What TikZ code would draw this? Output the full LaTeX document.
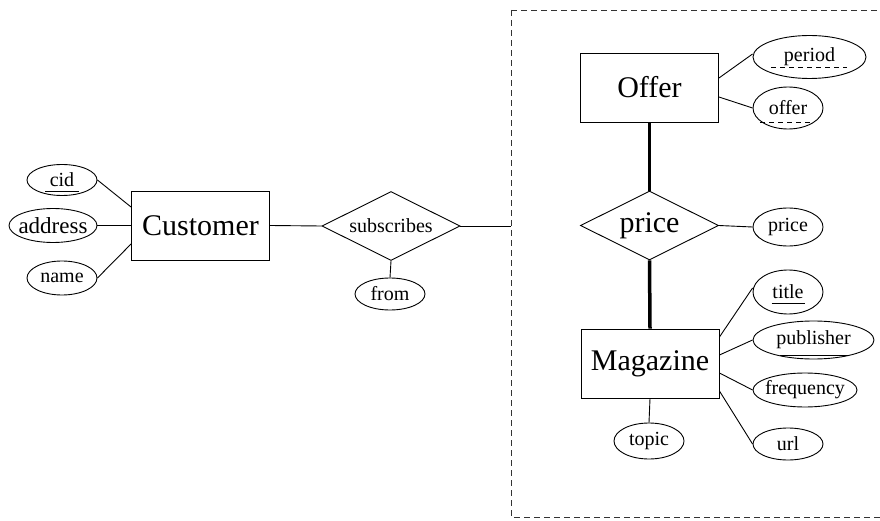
\documentclass[tikz,border=0pt]{standalone}
\usepackage{fontspec}
\setmainfont{Liberation Serif}
\usetikzlibrary{shapes.geometric}
\newcommand{\attxt}[1]{\makebox[0pt]{#1}}
\begin{document}
\begin{tikzpicture}[x=1pt,y=-1pt,
  every path/.style={line width=0.9pt},
  ent/.style={draw,rectangle,minimum width=138pt,minimum height=69pt,inner sep=0pt,
    font=\fontsize{30}{36}\selectfont},
  rel/.style={draw,diamond,aspect=2,minimum width=138pt,minimum height=69pt,inner sep=0pt,
    font=\fontsize{#1}{24}\selectfont},
  attr/.style={draw,ellipse,inner sep=0pt,font=\fontsize{20}{24}\selectfont},
  strong/.style={line width=3.5pt},
  keyline/.style={line width=0.9pt},
  partkey/.style={line width=0.9pt,dash pattern=on 5pt off 4pt}]
\useasboundingbox (0,0) rectangle (880,521);

% aggregation boundary
\draw[dash pattern=on 6pt off 4pt,black!80] (511,10) -- (895,10)
  (511,10) -- (511,517) -- (895,517);
\coordinate (aggw) at (511,226);

% entities and relationships
\node[ent] (cust) at (200.5,225.5) {Customer};
\node[rel=20] (subs) at (391,226) {subscribes};
\node[ent] (offer) at (649.5,87.5) {Offer};
\node[rel=30] (price) at (649.5,225.5) {\raisebox{-2pt}{price}};
\node[ent] (mag) at (650,363.5) {Magazine};

% attributes
\node[attr,minimum width=70pt,minimum height=31pt] (cid) at (62,180) {\attxt{cid}};
\node[attr,minimum width=88pt,minimum height=34pt,font=\fontsize{23}{26}\selectfont] (addr) at (53,225.5) {\attxt{address}};
\node[attr,minimum width=70pt,minimum height=34pt] (name) at (62,278) {\attxt{name}};
\node[attr,minimum width=70pt,minimum height=32pt] (from) at (390,294) {\attxt{from}};
\node[attr,minimum width=113pt,minimum height=43pt] (period) at (809.5,57) {\attxt{period}};
\node[attr,minimum width=70pt,minimum height=42pt] (offat) at (788,108) {\attxt{offer}};
\node[attr,minimum width=70pt,minimum height=38pt] (pr) at (788,227) {\attxt{price}};
\node[attr,minimum width=70pt,minimum height=44pt] (title) at (788,292) {\attxt{title}};
\node[attr,minimum width=121pt,minimum height=38pt] (publ) at (813.5,340) {\attxt{publisher}};
\node[attr,minimum width=104pt,minimum height=34pt] (freq) at (805,390) {\attxt{frequency}};
\node[attr,minimum width=70pt,minimum height=32pt] (url) at (788,444) {\attxt{url}};
\node[attr,minimum width=70pt,minimum height=36pt] (topic) at (649,441) {\attxt{topic}};

% key underlines
\draw[keyline] ([xshift=-17pt,yshift=-11pt]cid.center) -- ([xshift=17pt,yshift=-11pt]cid.center);
\draw[keyline] ([xshift=-16.5pt,yshift=-11pt]title.center) -- ([xshift=16.5pt,yshift=-11pt]title.center);
\draw[keyline] ([xshift=-33.5pt,yshift=-15pt]publ.center) -- ([xshift=34.5pt,yshift=-15pt]publ.center);
\draw[partkey] ([xshift=-38.5pt,yshift=-10pt]period.center) -- ([xshift=37.5pt,yshift=-10pt]period.center);
\draw[partkey] ([xshift=-28pt,yshift=-14pt]offat.center) -- ([xshift=24pt,yshift=-14pt]offat.center);

% connectors
\draw (cid.east) -- ([yshift=18.5pt]cust.west);
\draw (addr.east) -- (cust.west);
\draw (name.east) -- ([yshift=-18.5pt]cust.west);
\draw (cust.east) -- (subs.west);
\draw (subs.east) -- (aggw);
\draw (subs.south) -- (from.north);

\draw ([yshift=9.5pt]offer.east) -- ([yshift=3pt]period.west);
\draw ([yshift=-9.5pt]offer.east) -- (offat.west);
\draw[strong] (offer.south) -- (price.north);
\draw[strong] (price.south) -- (mag.north);
\draw (price.east) -- (pr.west);

\draw ([yshift=26.5pt]mag.east) -- ([yshift=4pt]title.west);
\draw ([yshift=8.5pt]mag.east) -- (publ.west);
\draw ([yshift=-9.5pt]mag.east) -- (freq.west);
\draw ([yshift=-27.5pt]mag.east) -- (url.west);
\draw (mag.south) -- (topic.north);
\end{tikzpicture}
\end{document}
